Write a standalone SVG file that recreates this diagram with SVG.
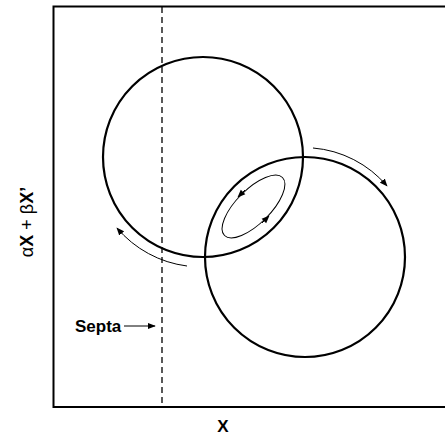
<svg xmlns="http://www.w3.org/2000/svg" width="445" height="443" viewBox="0 0 445 443">
<style>
.frame{fill:none;stroke:#000;stroke-width:2}
.circ{fill:none;stroke:#000;stroke-width:2.2}
.thin{fill:none;stroke:#000;stroke-width:1}
.dash{fill:none;stroke:#000;stroke-width:1.3;stroke-dasharray:6,4}
.lbl{font-family:"Liberation Sans",Arial,sans-serif;font-size:17px;fill:#000}
.b{font-weight:bold}
</style>
<defs>
<marker id="ah" viewBox="0 0 10 10" refX="9" refY="5" markerWidth="8" markerHeight="8" markerUnits="userSpaceOnUse" orient="auto">
<path d="M0,1 L10,5 L0,9 Z" fill="#000"/>
</marker>
</defs>
<rect class="frame" x="53.5" y="6.5" width="400" height="400.5"/>
<g id="septa-line"><line class="dash" x1="162" y1="7" x2="162" y2="407"/></g>
<g id="circle-upper"><circle class="circ" cx="203" cy="157" r="100"/></g>
<g id="circle-lower"><circle class="circ" cx="305" cy="257" r="100"/></g>
<g id="connectors">
<ellipse class="thin" cx="253.5" cy="206.5" rx="41" ry="17" transform="rotate(-45 253.5 206.5)"/>
<path class="thin" d="M245,190 L238,197" marker-end="url(#ah)"/>
<path class="thin" d="M262,223 L269,216" marker-end="url(#ah)"/>
<path class="thin" d="M313,148 A109,109 0 0 1 387,186" marker-end="url(#ah)"/>
<path class="thin" d="M187,266 A110,110 0 0 1 117,228" marker-end="url(#ah)"/>
<line class="thin" x1="124" y1="326" x2="155" y2="326" marker-end="url(#ah)"/>
</g>
<text class="lbl b" x="75" y="332">Septa</text>
<text class="lbl b" x="223" y="432" text-anchor="middle">X</text>
<text class="lbl" style="font-size:18px" transform="translate(33,222) rotate(-90)" text-anchor="middle">α<tspan class="b">X</tspan> + β<tspan class="b">X’</tspan></text>
</svg>
